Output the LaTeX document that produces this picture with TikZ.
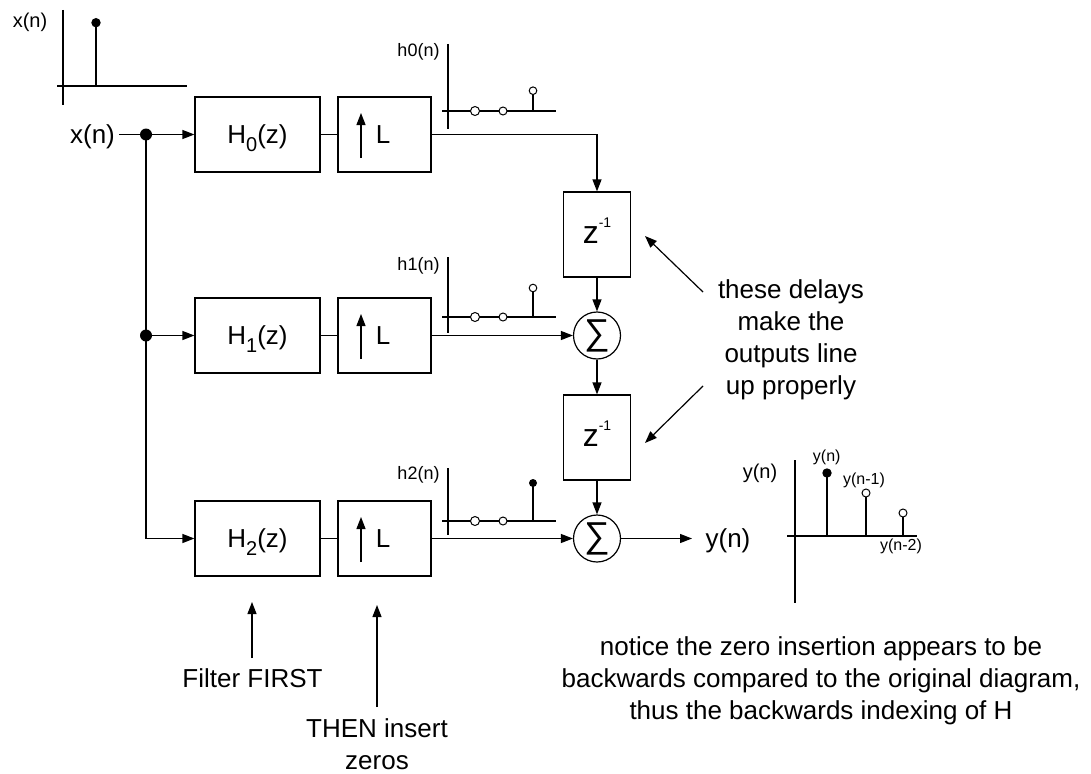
\documentclass[tikz,border=0pt]{standalone}
\usepackage{fontspec}
\setmainfont{Liberation Sans}
\usetikzlibrary{arrows.meta,calc}

% font sizes used throughout
\newcommand*\bigtxt{\fontsize{26}{32}\selectfont}
\newcommand*\midtxt{\fontsize{20}{24}\selectfont}
\newcommand*\smalltxt{\fontsize{18}{22}\selectfont}
\newcommand*\tinytxt{\fontsize{16}{19}\selectfont}

\begin{document}
\begin{tikzpicture}[x=1pt,y=-1pt,line width=1.2pt,
  tip/.style={-{Triangle[length=12pt,width=9pt]}},
  blk/.style={draw,inner sep=0pt,minimum height=75pt,
              text height=18.5pt,text depth=0pt,font=\bigtxt},
  hblk/.style={blk,minimum width=125pt},
  lblk/.style={blk,minimum width=93pt},
  zblk/.style={draw,inner sep=0pt,minimum width=67pt,minimum height=85pt,
              text height=17pt,text depth=0pt},
  sumnode/.style={draw,circle,inner sep=0pt,minimum size=47pt,
              font=\fontsize{36}{36}\selectfont},
  txt/.style={inner sep=0pt,font=\bigtxt,align=center},
  opendot/.style={draw,fill=white,line width=1pt},
]
\useasboundingbox (0,0) rectangle (1091,773);

% ---- filter and upsampler blocks ----
\node[hblk] (H0) at (257.5,134.5) {H\raisebox{-8pt}{\fontsize{20}{20}\selectfont 0}(z)};
\node[lblk] (L0) at (384.5,134.5) {\hspace*{-3pt}L};
\node[hblk] (H1) at (257.5,335.5) {H\raisebox{-8pt}{\fontsize{20}{20}\selectfont 1}(z)};
\node[lblk] (L1) at (384.5,335.5) {\hspace*{-3pt}L};
\node[hblk] (H2) at (257.5,538.5) {H\raisebox{-8pt}{\fontsize{20}{20}\selectfont 2}(z)};
\node[lblk] (L2) at (384.5,538.5) {\hspace*{-3pt}L};

\draw (H0.east) -- (L0.west);
\draw (H1.east) -- (L1.west);
\draw (H2.east) -- (L2.west);

% up-sampling arrows inside the L blocks
\foreach \b in {L0,L1,L2}{
  \draw[-{Triangle[length=12pt,width=9pt]}]
    ($(\b.center)+(-23.5,23.5)$) -- ($(\b.center)+(-23.5,-21.5)$);
}

% ---- delays and adders ----
\node[zblk] (Z1) at (597,234.5) {\fontsize{32}{32}\selectfont z\raisebox{16pt}{\fontsize{14}{14}\selectfont -1}};
\node[zblk] (Z2) at (597,437.5) {\fontsize{32}{32}\selectfont z\raisebox{16pt}{\fontsize{14}{14}\selectfont -1}};
\node[sumnode] (S1) at (597,335.5) {\symbol{"2211}};
\node[sumnode] (S2) at (597,538.5) {\symbol{"2211}};

\draw[tip] (L0.east) -| (Z1.north);
\draw[tip] (Z1.south) -- (S1.north);
\draw[tip] (L1.east) -- (S1.west);
\draw[tip] (S1.south) -- (Z2.north);
\draw[tip] (Z2.south) -- (S2.north);
\draw[tip] (L2.east) -- (S2.west);

% ---- input and output ----
\node[txt,anchor=base] (xin) at (92.5,143) {x(n)};
\node[txt,anchor=base] (yout) at (728,547) {y(n)};
\coordinate (j0) at (146,134.5);
\coordinate (j1) at (146,335.5);
\coordinate (c2) at (146,538.5);
\coordinate (yend) at (692,538.5);

\draw[tip] ([xshift=4pt]xin.east |- j0) -- (H0.west);
\draw (j0) -- (j1) -- (c2);
\draw[tip] (j1) -- (H1.west);
\draw[tip] (c2) -- (H2.west);
\draw[tip] (S2.east) -- (yend);
\fill (j0) circle (6pt);
\fill (j1) circle (6pt);

% ---- impulse x(n) ----
\node[inner sep=0pt,anchor=base,font=\midtxt] (xlab) at (30,28) {x(n)};
\draw (63,10) -- (63,105);
\draw (57,86) -- (187,86);
\draw (96,86) -- (96,23);
\fill (96,22.7) circle (4.7pt);

% ---- sub-filter responses ----
\node[inner sep=0pt,anchor=base,font=\smalltxt] (h0lab) at (418.5,57) {h0(n)};
\draw (448,44) -- (448,129);
\draw (442,111) -- (556,111);
\draw (533,111) -- (533,94.5);
\draw[opendot] (475,111) circle (4.5pt);
\draw[opendot] (503,111) circle (4pt);
\draw[opendot] (533,90.7) circle (3.8pt);

\node[inner sep=0pt,anchor=base,font=\smalltxt] (h1lab) at (418.5,270) {h1(n)};
\draw (448,257) -- (448,333);
\draw (442,317) -- (556,317);
\draw (533,317) -- (533,292);
\draw[opendot] (475,317) circle (4.5pt);
\draw[opendot] (503,317) circle (4pt);
\draw[opendot] (533,288) circle (3.8pt);

\node[inner sep=0pt,anchor=base,font=\smalltxt] (h2lab) at (418.5,479) {h2(n)};
\draw (448,468) -- (448,535);
\draw (442,521) -- (556,521);
\draw (533,521) -- (533,484);
\draw[opendot] (475,521) circle (4.5pt);
\draw[opendot] (503,521) circle (4pt);
\fill (533,483) circle (4pt);

% ---- output sequence y(n) ----
\node[inner sep=0pt,anchor=base,font=\midtxt] (ylab) at (760,478) {y(n)};
\draw (795,460) -- (795,603);
\draw (787,536) -- (917,536);
\draw (827,536) -- (827,473);
\fill (827,473) circle (4.7pt);
\draw (866,536) -- (866,497);
\draw[opendot] (866,493) circle (4pt);
\draw (903,536) -- (903,517);
\draw[opendot] (903,513) circle (4pt);
\node[inner sep=0pt,anchor=base,font=\tinytxt] (yl0) at (826.7,461) {y(n)};
\node[inner sep=0pt,anchor=base,font=\tinytxt] (yl1) at (864,484) {y(n-1)};
\node[inner sep=0pt,anchor=base,font=\tinytxt] (yl2) at (901,550) {y(n-2)};

% ---- annotations ----
\node[txt,anchor=north] (delays) at (791,279)
  {these delays\\make the\\outputs line\\up properly};
\coordinate (d1s) at (703,292);
\coordinate (d1e) at (645,236);
\coordinate (d2s) at (703,386);
\coordinate (d2e) at (645,443);
\draw[tip] (d1s) -- (d1e);
\draw[tip] (d2s) -- (d2e);

\node[txt,anchor=base] (filt) at (252.5,687) {Filter FIRST};
\node[txt,anchor=north] (ins) at (377,718) {THEN insert\\zeros};
\coordinate (f1s) at (252,658);
\coordinate (f1e) at (252,602);
\coordinate (f2s) at (377,707);
\coordinate (f2e) at (377,605);
\draw[tip] (f1s) -- (f1e);
\draw[tip] (f2s) -- (f2e);

\node[txt,anchor=north] (notice) at (821,636)
  {notice the zero insertion appears to be\\
   backwards compared to the original diagram,\\
   thus the backwards indexing of H};
\end{tikzpicture}
\end{document}
